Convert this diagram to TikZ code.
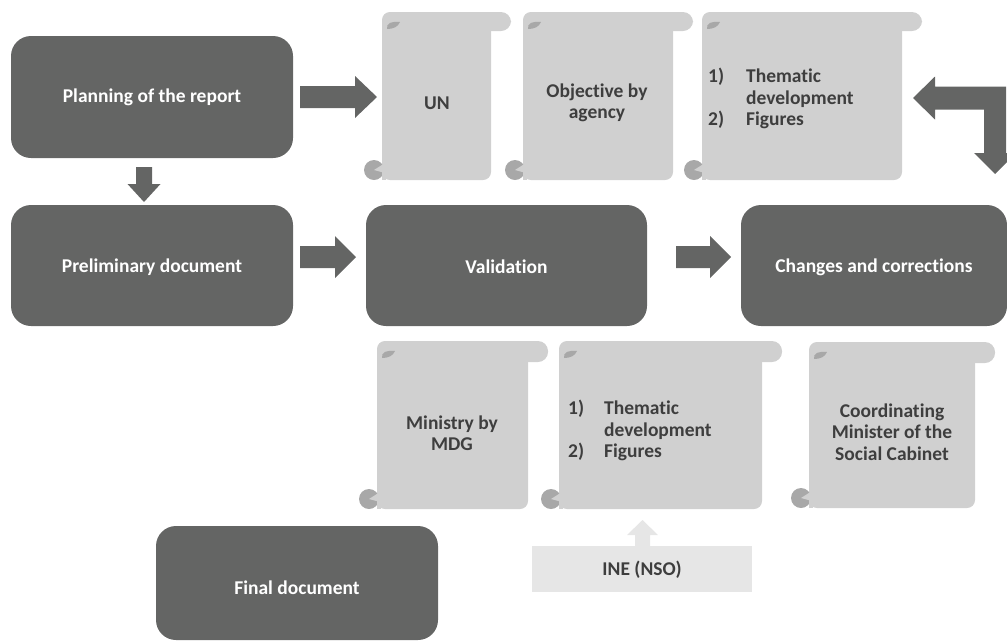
\documentclass[tikz,border=0pt]{standalone}
\usepackage{fontspec}
\setmainfont{Carlito}[Ligatures=NoCommon]
\definecolor{darkc}{RGB}{100,101,100}
\definecolor{scrollc}{RGB}{208,208,208}
\definecolor{curlc}{RGB}{168,168,168}
\definecolor{inec}{RGB}{230,230,230}
\definecolor{textc}{RGB}{62,62,62}
% scroll shape: L R T B rollheight
\newcommand\scrollshape[5]{%
  \fill[scrollc, rounded corners=8pt] (#1,#3) rectangle (#2,#4);
  \fill[scrollc, rounded corners=10pt] (#1,#3) rectangle ({#2+20},{#3+#5});
  \fill[curlc] ({#1+5},{#3+17}) .. controls ({#1+4},{#3+11}) and ({#1+10},{#3+9}) .. ({#1+18},{#3+10})
     .. controls ({#1+16},{#3+15}) and ({#1+11},{#3+17}) .. cycle;
  \fill[curlc] ({#1-8},{#4-10}) circle (10pt);
  \fill[scrollc] ({#1-8},{#4-10}) -- ({#1+3},{#4-17}) -- ({#1+3},{#4-7}) -- cycle;
  \fill[scrollc] ({#1},{#4-13}) rectangle ({#1+4},{#4});
}
% right block arrow: x0 xhead xtip yc
\newcommand\rblock[4]{%
  \fill[darkc] (#1,{#4-11}) -- (#2,{#4-11}) -- (#2,{#4-21}) -- (#3,#4) -- (#2,{#4+21}) -- (#2,{#4+11}) -- (#1,{#4+11}) -- cycle;
}
\begin{document}
\begin{tikzpicture}[x=1pt,y=-1pt,
  bigfont/.style={font=\bfseries\fontsize{19.5}{21.5}\selectfont},
  darkbox/.style={fill=darkc, rounded corners=20pt, inner sep=0pt},
  darktext/.style={bigfont, text=white, align=center, inner sep=0pt},
  scrolltext/.style={bigfont, text=textc, align=center, inner sep=0pt},
]
\useasboundingbox (0,0) rectangle (1007,641);

% dark process boxes
\node[darkbox, minimum width=282pt, minimum height=122pt] (plan) at (152,97) {};
\node[darktext] (plantext) at (152,97) {Planning of the report};
\node[darkbox, minimum width=282pt, minimum height=121pt] (prelim) at (152,265.5) {};
\node[darktext] (prelimtext) at (152,267) {Preliminary document};
\node[darkbox, minimum width=281pt, minimum height=121pt] (valid) at (506.5,265.5) {};
\node[darktext] (validtext) at (506.5,267) {Validation};
\node[darkbox, minimum width=266pt, minimum height=121pt] (changes) at (874,265.5) {};
\node[darktext] (changestext) at (874,267) {Changes and corrections};
\node[darkbox, minimum width=282pt, minimum height=114pt] (final) at (297,583) {};
\node[darktext] (finaltext) at (297,588) {Final document};

% scrolls, top row
\scrollshape{382}{491}{12}{180}{19}
\node[scrolltext] (un) at (437,103) {UN};
\scrollshape{523}{673}{12}{180}{19}
\node[scrolltext] (obj) at (597,103) {Objective by\\agency};
\scrollshape{702}{902}{12}{180}{19}
\node[scrolltext, anchor=west] (list1) at (708,100) {\begin{tabular}{@{}l@{\hspace{22pt}}l@{}}1) & Thematic\\ & development\\ 2) & Figures\end{tabular}};

% scrolls, bottom row
\scrollshape{377}{528}{341}{509}{21}
\node[scrolltext] (ministry) at (452,433) {Ministry by\\MDG};
\scrollshape{559}{762}{341}{509}{21}
\node[scrolltext, anchor=west] (list2) at (568,432) {\begin{tabular}{@{}l@{\hspace{20pt}}l@{}}1) & Thematic\\ & development\\ 2) & Figures\end{tabular}};
\scrollshape{809}{975}{342}{508}{21}
\node[scrolltext] (coord) at (892,432) {Coordinating\\Minister of the\\Social Cabinet};

% INE box
\node[fill=inec, minimum width=220pt, minimum height=46pt, inner sep=0pt] (ine) at (642,569) {};
\node[scrolltext] (inetext) at (642,570) {INE (NSO)};
\fill[inec] (635,546) -- (635,535) -- (627,535) -- (642.5,520) -- (658,535) -- (650,535) -- (650,546) -- cycle;

% block arrows
\rblock{300}{355}{377}{97}
\rblock{300}{335}{356}{257}
\rblock{676}{710}{731}{257}
\fill[darkc] (136,167) -- (152,167) -- (152,184) -- (160.5,184) -- (144,202) -- (127.5,184) -- (136,184) -- cycle;
\fill[darkc] (913,98) -- (935,76.5) -- (935,86.5) -- (1006,86.5) -- (1006,153) -- (1016,153) -- (995,174) -- (974,153) -- (984,153) -- (984,109.5) -- (935,109.5) -- (935,119.5) -- cycle;
\end{tikzpicture}
\end{document}
